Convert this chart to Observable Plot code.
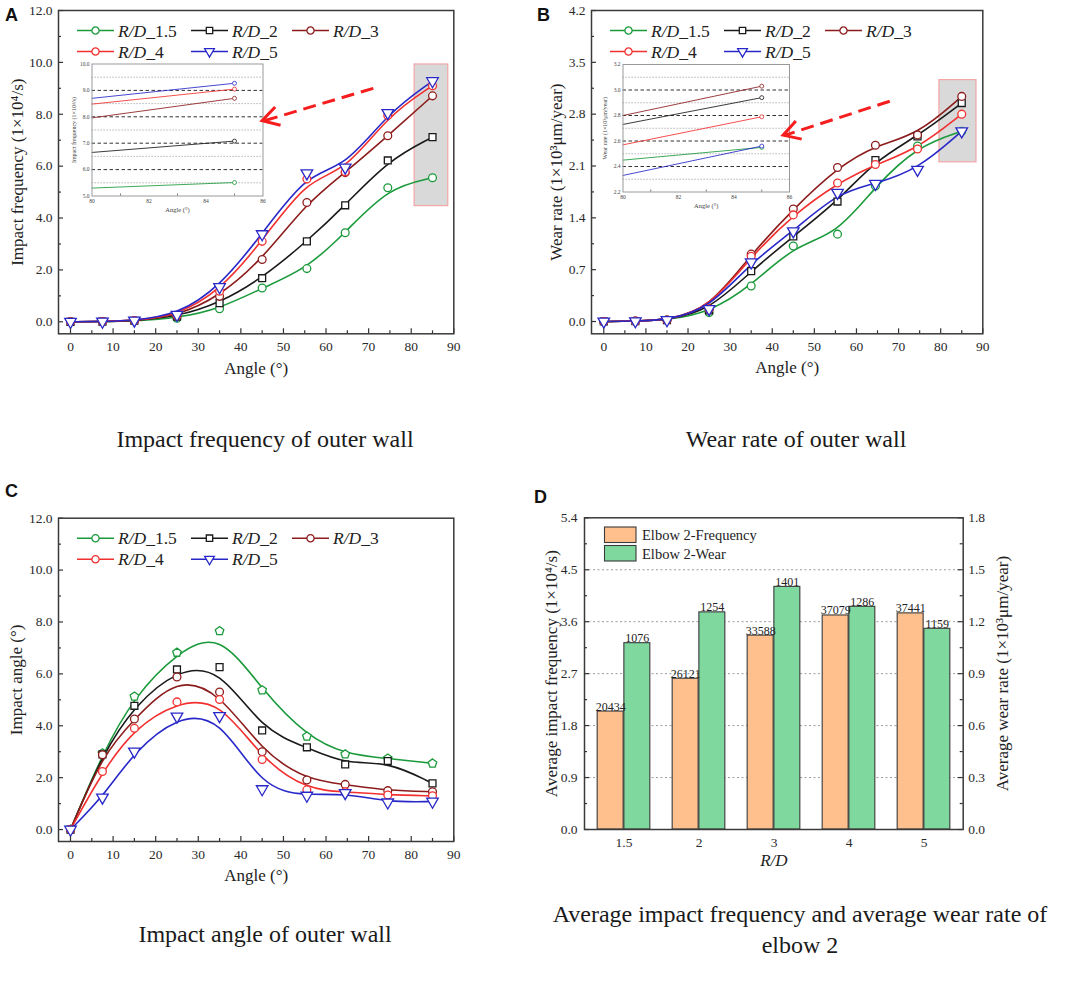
<!DOCTYPE html>
<html><head><meta charset="utf-8">
<script src="https://cdn.jsdelivr.net/npm/d3@7"></script>
<script src="https://cdn.jsdelivr.net/npm/@observablehq/plot@0.6"></script>
<style>
body{margin:0;background:#fff;}
#fig{position:relative;width:1065px;height:985px;background:#fff;overflow:hidden;font-family:"Liberation Serif","Times New Roman",serif;color:#222;}
.cap{position:absolute;font-size:24px;line-height:31px;text-align:center;white-space:nowrap;transform:translateX(-50%);color:#1a1a1a;}
.letter{position:absolute;font-family:"Liberation Sans",Arial,sans-serif;font-weight:bold;font-size:18px;line-height:18px;color:#111;}
</style></head><body><div id="fig"></div><script>
// ---------------- DATA ----------------
const angles = [0, 7.5, 15, 25, 35, 45, 55.5, 64.5, 74.5, 85];
const seriesSuffix = ["_1.5", "_2", "_3", "_4", "_5"];
const seriesColors = ["#1b9a3b", "#1a1a1a", "#8c1c1c", "#f2302f", "#2828c8"];

// A: impact frequency (1e4/s)
const freqRD15 = [0, 0.01, 0.03, 0.14, 0.50, 1.30, 2.05, 3.43, 5.17, 5.55];
const freqRD2  = [0, 0.01, 0.04, 0.20, 0.72, 1.68, 3.10, 4.49, 6.22, 7.12];
const freqRD3  = [0, 0.01, 0.04, 0.22, 0.98, 2.40, 4.60, 5.75, 7.17, 8.71];
const freqRD4  = [0, 0.01, 0.05, 0.25, 1.18, 3.10, 5.50, 5.78, 7.95, 9.10];
const freqRD5  = [0, 0.01, 0.05, 0.27, 1.34, 3.38, 5.73, 5.95, 8.05, 9.28];

// B: wear rate (1e3 um/year)
const wearRD15 = [0, 0.005, 0.02, 0.12, 0.48, 1.02, 1.18, 1.83, 2.37, 2.57];
const wearRD2  = [0, 0.005, 0.02, 0.15, 0.68, 1.15, 1.62, 2.18, 2.50, 2.95];
const wearRD3  = [0, 0.005, 0.02, 0.17, 0.91, 1.52, 2.08, 2.38, 2.52, 3.04];
const wearRD4  = [0, 0.005, 0.02, 0.17, 0.88, 1.44, 1.87, 2.12, 2.33, 2.80];
const wearRD5  = [0, 0.005, 0.02, 0.17, 0.80, 1.22, 1.74, 1.86, 2.05, 2.57];

// C: impact angle (deg)
const angRD15 = [0, 2.94, 5.13, 6.82, 7.65, 5.37, 3.59, 2.90, 2.74, 2.55];
const angRD2  = [0, 2.90, 4.77, 6.17, 6.26, 3.82, 3.17, 2.51, 2.64, 1.78];
const angRD3  = [0, 2.88, 4.26, 5.88, 5.30, 3.00, 1.91, 1.74, 1.50, 1.46];
const angRD4  = [0, 2.24, 3.90, 4.92, 5.01, 2.70, 1.53, 1.46, 1.33, 1.30];
const angRD5  = [0, 1.24, 3.01, 4.36, 4.38, 1.56, 1.31, 1.41, 1.05, 1.08];

// Insets (zoom 80-86)
const insetAngles = [80, 85];
const insetFreq = [[5.30, 5.51], [6.65, 7.08], [7.96, 8.70], [8.48, 9.05], [8.70, 9.27]];
const insetWear = [[2.45, 2.55], [2.73, 2.94], [2.80, 3.03], [2.57, 2.79], [2.33, 2.56]];

// D: averages
const rdCats = ["1.5", "2", "3", "4", "5"];
const avgFreq = [20434, 26121, 33588, 37079, 37441];   // 1/s
const avgWear = [1076, 1254, 1401, 1286, 1159];        // um/year

// ticks
const xMajor = [0, 10, 20, 30, 40, 50, 60, 70, 80, 90];
const xMinor = [5, 15, 25, 35, 45, 55, 65, 75, 85];
const yMajorA = [0, 2, 4, 6, 8, 10, 12];
const yMinorA = [1, 3, 5, 7, 9, 11];
const yMajorB = [0, 0.7, 1.4, 2.1, 2.8, 3.5, 4.2];
const yMinorB = [0.35, 1.05, 1.75, 2.45, 3.15, 3.85];
const yMajorD = [0, 0.9, 1.8, 2.7, 3.6, 4.5, 5.4];
const yMinorD = [0.45, 1.35, 2.25, 3.15, 4.05, 4.95];
const gridD = [0.9, 1.8, 2.7, 3.6, 4.5];

// annotations (data coordinates)
const highlightA = [{x1: 80.8, x2: 88.7, y1: 4.46, y2: 9.92}];
const highlightB = [{x1: 79.7, x2: 88.5, y1: 2.15, y2: 3.26}];
const arrowA = [{x1: 71.1, y1: 9.0, x2: 45.1, y2: 7.73}];
const arrowB = [{x1: 67.9, y1: 2.975, x2: 42.7, y2: 2.51}];

// ---------------- SYMBOLS ----------------
const triDown = {draw(ctx, size) {
  const s = Math.sqrt(4 * size / Math.sqrt(3)), h = s * Math.sqrt(3) / 2;
  ctx.moveTo(-s / 2, -h / 3); ctx.lineTo(s / 2, -h / 3); ctx.lineTo(0, 2 * h / 3); ctx.closePath();
}};
const pentagon = {draw(ctx, size) {
  const R = Math.sqrt(size / 2.378);
  for (let k = 0; k < 5; k++) {
    const a = -Math.PI / 2 + k * 2 * Math.PI / 5;
    const px = R * Math.cos(a), py = R * Math.sin(a);
    if (k === 0) ctx.moveTo(px, py); else ctx.lineTo(px, py);
  }
  ctx.closePath();
}};
const symAB = ["circle", "square", "circle", "circle", triDown];
const symC = [pentagon, "square", "circle", "circle", triDown];
const legendSyms = [d3.symbolCircle, d3.symbolSquare, d3.symbolCircle, d3.symbolCircle, triDown];

const fig = document.getElementById("fig");
function place(el, left, top) {
  el.style.position = "absolute"; el.style.left = left + "px"; el.style.top = top + "px";
  fig.appendChild(el);
}
const baseStyle = {fontFamily: "Liberation Serif, Times New Roman, serif", fontSize: "13.5px", color: "#2a2a2a", background: "transparent", overflow: "visible"};

function addLegend(svg, ml, mt) {
  const g = d3.select(svg).append("g").attr("transform", `translate(${ml},${mt})`).attr("text-anchor", "start");
  const cols = [19, 133, 234], rows = [20.5, 41.5];
  seriesSuffix.forEach((suf, i) => {
    const cx = cols[i % 3], cy = rows[Math.floor(i / 3)];
    g.append("line").attr("x1", cx).attr("x2", cx + 37).attr("y1", cy).attr("y2", cy)
      .attr("stroke", seriesColors[i]).attr("stroke-width", 1.6);
    g.append("path").attr("d", d3.symbol(legendSyms[i], Math.PI * 3.6 * 3.6)())
      .attr("transform", `translate(${cx + 18.5},${cy})`)
      .attr("fill", "white").attr("stroke", seriesColors[i]).attr("stroke-width", 1.3);
    const t = g.append("text").attr("x", cx + 41).attr("y", cy).attr("dy", "0.36em")
      .attr("text-anchor", "start").attr("font-size", 17.5).attr("fill", "#222");
    t.append("tspan").attr("font-style", "italic").text("R/D");
    t.append("tspan").text(suf);
  });
}

function addArrowHead(svg, arrows, color) {
  const sx = svg.scale("x"), sy = svg.scale("y");
  const g = d3.select(svg).append("g");
  arrows.forEach(a => {
    const tx = sx.apply(a.x2), ty = sy.apply(a.y2);
    const ox = sx.apply(a.x1), oy = sy.apply(a.y1);
    const ang = Math.atan2(oy - ty, ox - tx), L = 19, h = 30 * Math.PI / 180;
    const p1 = [tx + L * Math.cos(ang - h), ty + L * Math.sin(ang - h)];
    const p2 = [tx + L * Math.cos(ang + h), ty + L * Math.sin(ang + h)];
    g.append("path").attr("d", `M${p1[0]},${p1[1]}L${tx},${ty}L${p2[0]},${p2[1]}`)
      .attr("fill", "none").attr("stroke", color).attr("stroke-width", 3)
      .attr("stroke-linejoin", "miter").attr("stroke-linecap", "butt");
  });
}

function linePanel(cfg) {
  const {left, top, width, height, ml, mr, mt, mb, xDomain, yDomain, yMajor, yMinor,
    values, syms, ylabel, yLabelDx, xLabelDy, highlight, arrow} = cfg;
  const pw = width - ml - mr, ph = height - mt - mb;
  const marks = [];
  if (highlight) marks.push(Plot.rect(highlight, {x1: "x1", x2: "x2", y1: "y1", y2: "y2", fill: "#d9d9d9", stroke: "#f3a6a6", strokeWidth: 1.2}));
  const sets = values.map(vals => vals.map((v, j) => ({x: angles[j], y: v})));
  sets.forEach((d, i) => marks.push(Plot.line(d, {x: "x", y: "y", curve: "basis", stroke: seriesColors[i], strokeWidth: 1.6})));
  sets.forEach((d, i) => marks.push(Plot.dot(d, {x: "x", y: "y", symbol: syms[i], r: i === 4 ? 4.3 : 3.9, stroke: seriesColors[i], fill: "white", strokeWidth: 1.3})));
  if (arrow) {
    marks.push(Plot.link(arrow, {x1: "x1", y1: "y1", x2: "x2", y2: "y2", stroke: "#f51d1d", strokeWidth: 3, strokeDasharray: "13,7"}));
  }
  marks.push(
    Plot.tickX(xMajor, {x: d => d, insetTop: ph - 5, stroke: "#333", strokeWidth: 1.2}),
    Plot.tickX(xMinor, {x: d => d, insetTop: ph - 3, stroke: "#333", strokeWidth: 1.2}),
    Plot.tickY(yMajor, {y: d => d, insetRight: pw - 5, stroke: "#333", strokeWidth: 1.2}),
    Plot.tickY(yMinor, {y: d => d, insetRight: pw - 3, stroke: "#333", strokeWidth: 1.2}),
    Plot.frame({stroke: "#3a3a3a", strokeWidth: 1.5}),
    Plot.axisX({ticks: xMajor, tickSize: 0, tickPadding: 8, label: null, tickFormat: d => String(d)}),
    Plot.axisY({ticks: yMajor, tickSize: 0, tickPadding: 6, label: null, tickFormat: d3.format(".1f")}),
    Plot.text([ylabel], {text: d => d, frameAnchor: "left", dx: yLabelDx, rotate: -90, textAnchor: "middle", lineAnchor: "middle", fontSize: 17, fill: "#222"}),
    Plot.text(["Angle (°)"], {text: d => d, frameAnchor: "bottom", dy: xLabelDy, textAnchor: "middle", lineAnchor: "middle", fontSize: 17, fill: "#222"})
  );
  const svg = Plot.plot({width, height, marginLeft: ml, marginRight: mr, marginTop: mt, marginBottom: mb,
    x: {domain: xDomain}, y: {domain: yDomain}, style: baseStyle, marks});
  place(svg, left, top);
  if (arrow) addArrowHead(svg, arrow, "#f51d1d");
  addLegend(svg, ml, mt);
  return svg;
}

function insetPanel(cfg) {
  const {left, top, width, height, ml, mr, mt, mb, yDomain, yTicks, dashed, dotted, values, ylabel, fmt} = cfg;
  const sets = values.map(vals => vals.map((v, j) => ({x: insetAngles[j], y: v})));
  const marks = [
    Plot.ruleY(dotted, {stroke: "#8a8a8a", strokeDasharray: "1.2,1.8", strokeWidth: 0.8}),
    Plot.ruleY(dashed, {stroke: "#333", strokeDasharray: "3.5,2.5", strokeWidth: 1})
  ];
  sets.forEach((d, i) => marks.push(Plot.line(d, {x: "x", y: "y", stroke: seriesColors[i], strokeWidth: 1, strokeOpacity: 0.85})));
  sets.forEach((d, i) => marks.push(Plot.dot(d.slice(1), {x: "x", y: "y", r: 2, stroke: seriesColors[i], fill: "white", strokeWidth: 0.8})));
  marks.push(
    Plot.frame({stroke: "#999", strokeWidth: 1}),
    Plot.axisX({ticks: [80, 82, 84, 86], tickSize: 0, tickPadding: 3, label: null, fontSize: 5.5, tickFormat: d => String(d)}),
    Plot.axisY({ticks: yTicks, tickSize: 0, tickPadding: 2.5, label: null, fontSize: 5.5, tickFormat: d3.format(fmt)}),
    Plot.tickX([81, 83, 85], {x: d => d, insetTop: height - mt - mb - 2, stroke: "#777"}),
    Plot.text([ylabel], {text: d => d, frameAnchor: "left", dx: -18, rotate: -90, textAnchor: "middle", lineAnchor: "middle", fontSize: 6, fill: "#444"}),
    Plot.text(["Angle (°)"], {text: d => d, frameAnchor: "bottom", dy: 13.5, textAnchor: "middle", lineAnchor: "middle", fontSize: 6.5, fill: "#444"})
  );
  const svg = Plot.plot({width, height, marginLeft: ml, marginRight: mr, marginTop: mt, marginBottom: mb,
    x: {domain: [80, 86]}, y: {domain: yDomain},
    style: {...baseStyle, background: "white", fontSize: "5.5px", color: "#444"}, marks});
  place(svg, left, top);
}

// ---------------- INSETS (placed first so the main panels' legend and arrows sit above) ----------------
insetPanel({left: 68, top: 57, width: 200, height: 158, ml: 23.5, mr: 5.5, mt: 6.5, mb: 19.5,
  yDomain: [5, 10], yTicks: [5, 6, 7, 8, 9, 10], dashed: [6, 7, 8, 9], dotted: [5.5, 6.5, 7.5, 8.5, 9.5],
  values: insetFreq, ylabel: "Impact frequency (1×10⁴/s)", fmt: ".1f"});
insetPanel({left: 598, top: 57, width: 197, height: 156, ml: 24.5, mr: 6, mt: 7, mb: 21.5,
  yDomain: [2.2, 3.2], yTicks: [2.2, 2.4, 2.6, 2.8, 3.0, 3.2], dashed: [2.4, 2.6, 2.8, 3.0], dotted: [2.3, 2.5, 2.7, 2.9, 3.1],
  values: insetWear, ylabel: "Wear rate (1×10³μm/year)", fmt: ".1f"});

// ---------------- PANEL A ----------------
linePanel({left: 0, top: 0, width: 530, height: 400, ml: 58, mr: 76.7, mt: 10, mb: 66.7,
  xDomain: [-2.82, 90], yDomain: [-0.463, 12], yMajor: yMajorA, yMinor: yMinorA,
  values: [freqRD15, freqRD2, freqRD3, freqRD4, freqRD5], syms: symAB,
  ylabel: "Impact frequency (1×10⁴/s)", yLabelDx: -41, xLabelDy: 35,
  highlight: highlightA, arrow: arrowA});

// ---------------- PANEL B ----------------
linePanel({left: 530, top: 0, width: 535, height: 400, ml: 61, mr: 82.7, mt: 10, mb: 66.7,
  xDomain: [-2.92, 90], yDomain: [-0.166, 4.2], yMajor: yMajorB, yMinor: yMinorB,
  values: [wearRD15, wearRD2, wearRD3, wearRD4, wearRD5], syms: symAB,
  ylabel: "Wear rate (1×10³μm/year)", yLabelDx: -35, xLabelDy: 34,
  highlight: highlightB, arrow: arrowB});

// ---------------- PANEL C ----------------
linePanel({left: 0, top: 470, width: 530, height: 420, ml: 58, mr: 76.7, mt: 47.7, mb: 49,
  xDomain: [-2.82, 90], yDomain: [-0.46, 12], yMajor: yMajorA, yMinor: yMinorA,
  values: [angRD15, angRD2, angRD3, angRD4, angRD5], syms: symC,
  ylabel: "Impact angle (°)", yLabelDx: -42, xLabelDy: 34});

// ---------------- PANEL D ----------------
(function () {
  const width = 535, height = 420, ml = 54, mr = 102.3, mt = 47.3, mb = 61;
  const pw = width - ml - mr, ph = height - mt - mb;
  const bw = pw / rdCats.length;
  const barW = 26.7, gap = (bw - 2 * barW) / 2;
  const freqRows = rdCats.map((c, i) => ({c, v: avgFreq[i] / 1e4, label: String(avgFreq[i])}));
  const wearRows = rdCats.map((c, i) => ({c, v: avgWear[i] / 1000 * 3, label: String(avgWear[i])}));
  const svg = Plot.plot({width, height, marginLeft: ml, marginRight: mr, marginTop: mt, marginBottom: mb,
    x: {type: "band", domain: rdCats, padding: 0}, y: {domain: [0, 5.4]}, style: baseStyle,
    marks: [
      Plot.ruleY(gridD, {stroke: "#9a9a9a", strokeDasharray: "2,2.5", strokeWidth: 1}),
      Plot.barY(freqRows, {x: "c", y: "v", fill: "#FFC08E", stroke: "#3a3a3a", strokeWidth: 1.1, insetLeft: gap, insetRight: gap + barW}),
      Plot.barY(wearRows, {x: "c", y: "v", fill: "#7FD89E", stroke: "#3a3a3a", strokeWidth: 1.1, insetLeft: gap + barW, insetRight: gap}),
      Plot.text(freqRows, {x: "c", y: "v", text: "label", dx: -barW / 2, dy: -1, lineAnchor: "bottom", fontSize: 12, fill: "#222"}),
      Plot.text(wearRows, {x: "c", y: "v", text: "label", dx: barW / 2, dy: -1, lineAnchor: "bottom", fontSize: 12, fill: "#222"}),
      Plot.tickY(yMajorD, {y: d => d, insetRight: pw - 5, stroke: "#333", strokeWidth: 1.2}),
      Plot.tickY(yMinorD, {y: d => d, insetRight: pw - 3, stroke: "#333", strokeWidth: 1.2}),
      Plot.tickY(yMajorD, {y: d => d, insetLeft: pw - 5, stroke: "#333", strokeWidth: 1.2}),
      Plot.tickY(yMinorD, {y: d => d, insetLeft: pw - 3, stroke: "#333", strokeWidth: 1.2}),
      Plot.frame({stroke: "#3a3a3a", strokeWidth: 1.5}),
      Plot.axisX({tickSize: 0, tickPadding: 8, label: null}),
      Plot.axisY({ticks: yMajorD, tickSize: 0, tickPadding: 7, label: null, tickFormat: d => d.toFixed(1)}),
      Plot.axisY({anchor: "right", ticks: yMajorD, tickSize: 0, tickPadding: 5, label: null, tickFormat: d => (d / 3).toFixed(1)}),
      Plot.text(["Average impact frequency (1×10⁴/s)"], {text: d => d, frameAnchor: "left", dx: -33, rotate: -90, textAnchor: "middle", lineAnchor: "middle", fontSize: 17, fill: "#222"}),
      Plot.text(["Average wear rate (1×10³μm/year)"], {text: d => d, frameAnchor: "right", dx: 39, rotate: -90, textAnchor: "middle", lineAnchor: "middle", fontSize: 17, fill: "#222"}),
      Plot.text(["R/D"], {text: d => d, frameAnchor: "bottom", dy: 31, textAnchor: "middle", lineAnchor: "middle", fontSize: 17, fontStyle: "italic", fill: "#222"})
    ]});
  place(svg, 530, 470);
  const g = d3.select(svg).append("g").attr("transform", `translate(${ml},${mt})`).attr("text-anchor", "start");
  const legend = [["Elbow 2-Frequency", "#FFC08E"], ["Elbow 2-Wear", "#7FD89E"]];
  legend.forEach(([name, col], i) => {
    const y0 = 9.7 + i * 18.5;
    g.append("rect").attr("x", 20.5).attr("y", y0).attr("width", 31.5).attr("height", 15.5)
      .attr("fill", col).attr("stroke", "#3a3a3a").attr("stroke-width", 1.1);
    g.append("text").attr("x", 58).attr("y", y0 + 7.8).attr("dy", "0.36em").attr("text-anchor", "start")
      .attr("font-size", 14.5).attr("fill", "#222").text(name);
  });
})();

// ---------------- LETTERS & CAPTIONS ----------------
[["A", 5, 6], ["B", 537, 6], ["C", 5, 482], ["D", 534, 488]].forEach(([t, x, y]) => {
  const d = document.createElement("div"); d.className = "letter"; d.textContent = t;
  d.style.left = x + "px"; d.style.top = y + "px"; fig.appendChild(d);
});
[["Impact frequency of outer wall", 265, 424], ["Wear rate of outer wall", 796, 424],
 ["Impact angle of outer wall", 265, 919],
 ["Average impact frequency and average wear rate of<br>elbow 2", 800, 899]].forEach(([t, x, y]) => {
  const d = document.createElement("div"); d.className = "cap"; d.innerHTML = t;
  d.style.left = x + "px"; d.style.top = y + "px"; fig.appendChild(d);
});
</script></body></html>
